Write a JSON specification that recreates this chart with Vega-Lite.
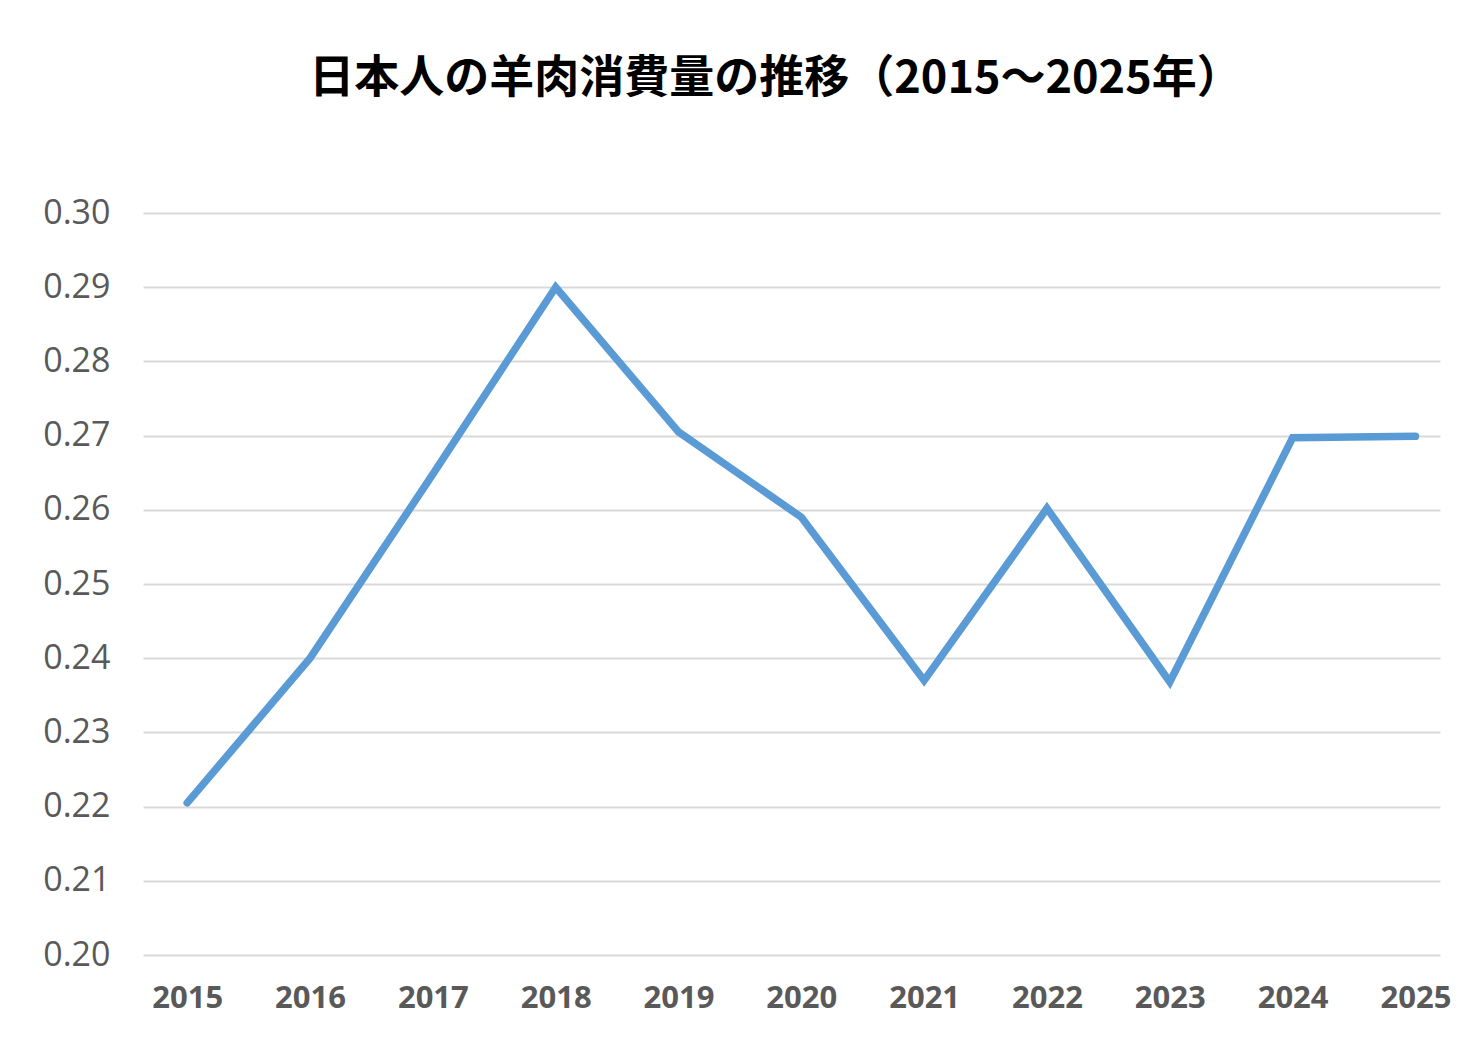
{
  "$schema": "https://vega.github.io/schema/vega-lite/v6.json",
  "autosize": "none",
  "width": 1297,
  "height": 742,
  "padding": {"left": 143, "top": 213, "right": 44, "bottom": 105},
  "background": "white",
  "title": {
    "text": "日本人の羊肉消費量の推移（2015〜2025年）",
    "font": "Noto Sans CJK JP",
    "fontSize": 45,
    "fontWeight": "bold",
    "color": "#000000",
    "anchor": "middle",
    "dx": -16,
    "offset": 94
  },
  "config": {
    "view": {"stroke": null},
    "axis": {
      "labelFont": "Open Sans",
      "labelColor": "#595959",
      "domain": false,
      "ticks": false,
      "title": null
    }
  },
  "data": {
    "values": [
      {"year": 2015, "value": 0.2205},
      {"year": 2016, "value": 0.2400},
      {"year": 2017, "value": 0.2648},
      {"year": 2018, "value": 0.2900},
      {"year": 2019, "value": 0.2705},
      {"year": 2020, "value": 0.2590},
      {"year": 2021, "value": 0.2370},
      {"year": 2022, "value": 0.2602},
      {"year": 2023, "value": 0.2368},
      {"year": 2024, "value": 0.2697},
      {"year": 2025, "value": 0.2699}
    ]
  },
  "mark": {"type": "line", "color": "#5B9BD5", "strokeWidth": 7.5, "strokeCap": "round"},
  "encoding": {
    "x": {
      "field": "year",
      "type": "quantitative",
      "scale": {"domain": [2014.64, 2025.2], "nice": false, "zero": false},
      "axis": {
        "values": [2015, 2016, 2017, 2018, 2019, 2020, 2021, 2022, 2023, 2024, 2025],
        "format": "d",
        "grid": false,
        "labelFontSize": 31,
        "labelFontWeight": "bold",
        "labelPadding": 28
      }
    },
    "y": {
      "field": "value",
      "type": "quantitative",
      "scale": {"domain": [0.2, 0.3], "nice": false, "zero": false},
      "axis": {
        "values": [0.2, 0.21, 0.22, 0.23, 0.24, 0.25, 0.26, 0.27, 0.28, 0.29, 0.3],
        "format": ".2f",
        "grid": true,
        "gridColor": "#D9D9D9",
        "gridWidth": 2,
        "labelFontSize": 34,
        "labelPadding": 33
      }
    }
  }
}
